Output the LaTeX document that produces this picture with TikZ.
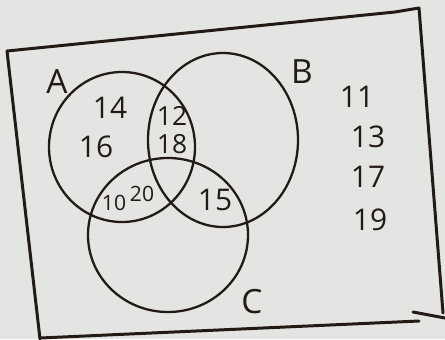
\documentclass[tikz,border=0pt]{standalone}
\usepackage{fontspec}
\setmainfont{Open Sans}
\definecolor{paper}{HTML}{E4E4E2}
\definecolor{ink}{HTML}{221A15}
\usepackage{tikz}

\begin{document}
\begin{tikzpicture}[x=0.02cm, y=-0.02cm,
				frame/.style={draw=ink, line width=1.7pt, line join=round, line cap=round},
				ring/.style={draw=ink, line width=1.3pt},
				num/.style={text=ink, font=\fontsize{17}{20}\selectfont, inner sep=0pt},
				small/.style={num, font=\fontsize{15}{18}\selectfont},
				tiny/.style={num, font=\fontsize{12}{14}\selectfont},
				setlbl/.style={text=ink, font=\fontsize{19}{22}\selectfont, inner sep=0pt}
			]
			\fill[paper] (0,0) rectangle (445,339);
			\useasboundingbox (0,0) rectangle (445,339);

			% the box round the universe
			\draw[frame] (40,339) -- (7,51) -- (395,12) -- (419,8) -- (443,313);
			\draw[frame] (40,338) -- (419,321);
			\draw[frame] (413,312) -- (445,318);

			% the three sets
			\draw[ring] (122,147) ellipse [x radius=73, y radius=75];
			\draw[ring] (223,140) ellipse [x radius=75, y radius=87];
			\draw[ring] (168,235) ellipse [x radius=80, y radius=77];

			\node[setlbl] (labA) at (57,82) {A};
			\node[setlbl] (labB) at (302,72) {B};
			\node[setlbl] (labC) at (252,302) {C};

			\node[num] (n14) at (110,108) {14};
			\node[num] (n16) at (96,147) {16};
			\node[small] (n12) at (172,116) {12};
			\node[small] (n18) at (172,144) {18};
			\node[tiny] (n10) at (114,203) {10};
			\node[tiny] (n20) at (142,194) {20};
			\node[num] (n15) at (215,200) {15};

			\node[num] (n11) at (357,97) {11};
			\node[num] (n13) at (368,137) {13};
			\node[num] (n17) at (368,177) {17};
			\node[num] (n19) at (370,220) {19};
		\end{tikzpicture}
\end{document}
